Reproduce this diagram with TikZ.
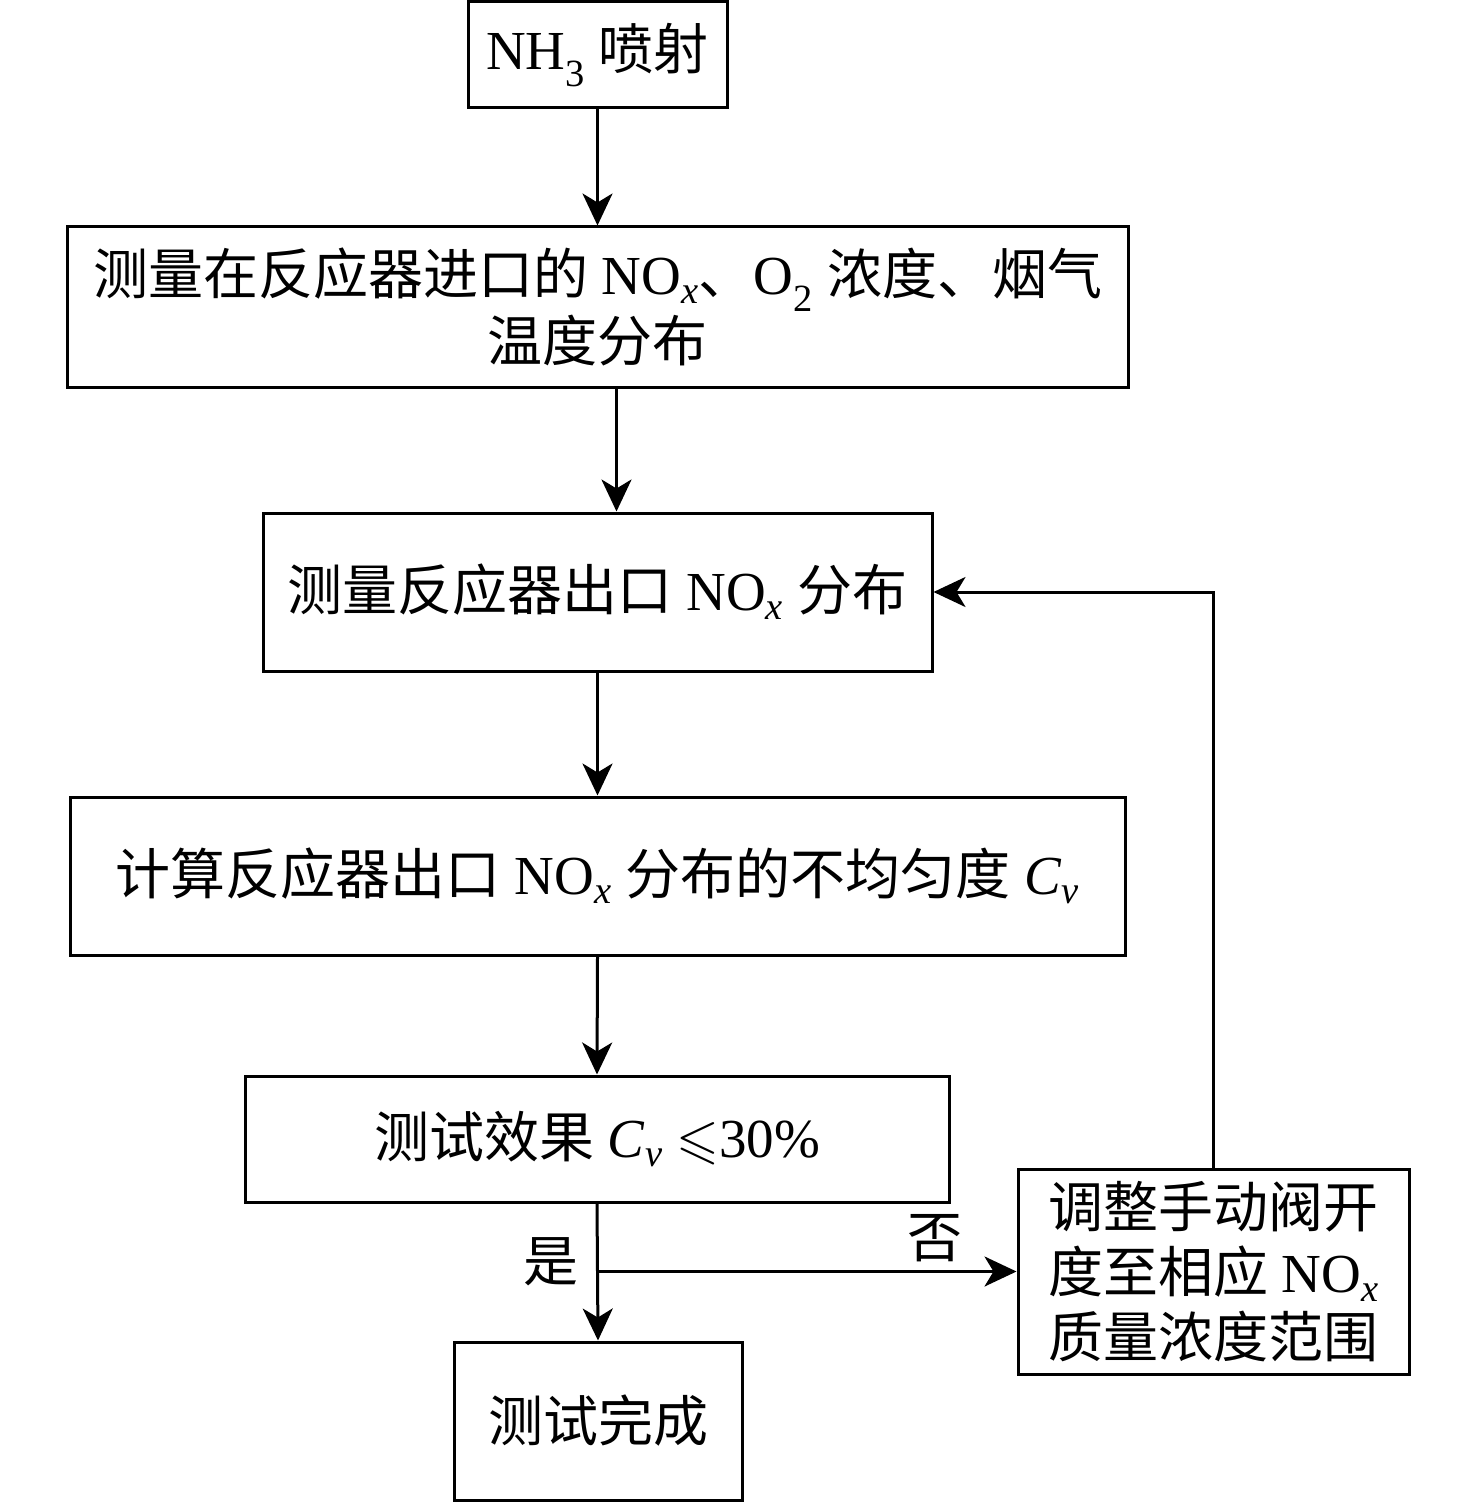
\documentclass[tikz,border=0pt]{standalone}
\usepackage{fontspec}
\setmainfont{Liberation Serif}
\newfontfamily\cjk{Noto Sans CJK SC}
\usepackage{amssymb}
\usetikzlibrary{arrows.meta}
\newcommand{\NOx}{NO\textsubscript{\textit{x}}}
\newcommand{\Cv}{\textit{C}\textsubscript{\textit{v}}}
\tikzset{
  box/.style={draw, line width=3pt, align=center, inner sep=0pt},
  arr/.style={line width=3pt, -{Stealth[length=32pt,width=30pt,inset=9pt]}},
  lbl/.style={inner sep=0pt}
}
\begin{document}
\begin{tikzpicture}[x=1pt,y=1pt,yscale=-1,xscale=1, font=\fontsize{55}{67}\selectfont]
\useasboundingbox (0,0) rectangle (1476,1503);

%Shape: Rectangle [NH3]
\node[box, minimum width=259pt, minimum height=106pt] (inj) at (597.5,55) {NH\textsubscript{3} {\cjk 喷射}};
%Shape: Rectangle [inlet]
\node[box, minimum width=1061pt, minimum height=160pt] (inlet) at (597.5,307) {{\cjk 测量在反应器进口的} \NOx{\cjk 、}O\textsubscript{2} {\cjk 浓度、烟气}\\{\cjk 温度分布}};
%Shape: Rectangle [outlet]
\node[box, minimum width=669pt, minimum height=158pt] (outlet) at (597.5,592) {{\cjk 测量反应器出口} \NOx{} {\cjk 分布}};
%Shape: Rectangle [calc]
\node[box, minimum width=1055pt, minimum height=158pt] (calc) at (597.5,876) {{\cjk 计算反应器出口} \NOx{} {\cjk 分布的不均匀度} \Cv};
%Shape: Rectangle [test]
\node[box, minimum width=704pt, minimum height=126pt] (test) at (597,1139) {{\cjk 测试效果} \Cv{} $\leqslant$30\%};
%Shape: Rectangle [done]
\node[box, minimum width=288pt, minimum height=158pt] (done) at (598,1421) {{\cjk 测试完成}};
%Shape: Rectangle [adjust]
\node[box, minimum width=391pt, minimum height=205pt, font=\fontsize{55}{65}\selectfont] (adj) at (1213.5,1271.5) {{\cjk 调整手动阀开}\\{\cjk 度至相应} \NOx\\{\cjk 质量浓度范围}};

%Labels
\node[lbl] (yes) at (551,1262) {\cjk 是};
\node[lbl] (no) at (935,1238) {\cjk 否};

%Straight Lines
\draw[arr] (inj.south) -- (inlet.north);
\draw[arr] ([xshift=19pt]inlet.south) -- ([xshift=19pt]outlet.north);
\draw[arr] (outlet.south) -- (calc.north);
\draw[arr] (calc.south) -- (test.north);
\draw[arr] (test.south) -- (done.north);
\draw[arr] (test.south |- adj.west) -- (adj.west);
%Feedback
\draw[arr] (adj.north) |- (outlet.east);

\end{tikzpicture}
\end{document}
